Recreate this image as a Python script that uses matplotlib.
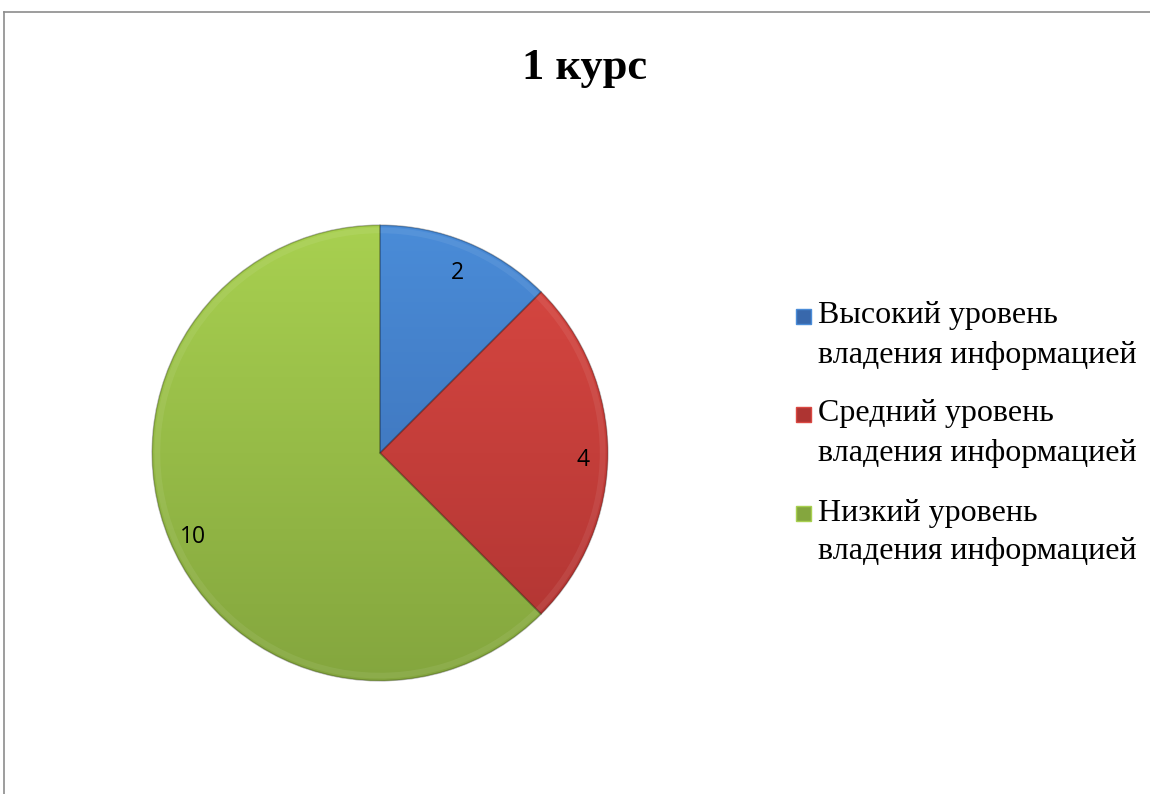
import numpy as np
import matplotlib
matplotlib.use("Agg")
import matplotlib.pyplot as plt
from matplotlib.patches import Rectangle, Wedge
from matplotlib.lines import Line2D
from matplotlib.colors import LinearSegmentedColormap

# данные
title = "1 курс"
labels = ["Высокий уровень\nвладения информацией",
          "Средний уровень\nвладения информацией",
          "Низкий уровень\nвладения информацией"]
values = [2, 4, 10]
colors_top = ["#4A8CD8", "#DA4842", "#A8D050"]
colors_bottom = ["#3868AC", "#AE3432", "#84A63E"]

W, H = 1150, 794
fig = plt.figure(figsize=(W / 100, H / 100), dpi=100)

# рамка диаграммы (видны только верх и левый край)
fig.add_artist(Line2D([4 / W, 1], [1 - 12 / H, 1 - 12 / H], color="#8c8c8c", lw=1.2))
fig.add_artist(Line2D([4 / W, 4 / W], [0, 1 - 12 / H], color="#8c8c8c", lw=1.2))

cx, cy, r = 380, 453, 230
ax = fig.add_axes([(cx - r) / W, (H - cy - r) / H, 2 * r / W, 2 * r / H])

total = sum(values)
wedges, texts, autotexts = ax.pie(
    values, startangle=90, counterclock=False,
    colors=colors_top, autopct=lambda p: f"{p * total / 100:.0f}",
    pctdistance=0.89,
    wedgeprops=dict(edgecolor=(0, 0, 0, 0.15), linewidth=1.0),
    textprops=dict(fontsize=16.5, family="Open Sans", color="black"))
ax.set_aspect("equal")
ax.axis("off")

# вертикальный градиент в каждом секторе
grad = np.linspace(0, 1, 256).reshape(-1, 1)
for w, ct, cb in zip(wedges, colors_top, colors_bottom):
    cmap = LinearSegmentedColormap.from_list("g", [ct, cb])
    im = ax.imshow(grad, cmap=cmap, extent=(-1, 1, -1, 1), origin="upper",
                   aspect="auto", zorder=w.get_zorder() + 0.1)
    im.set_clip_path(w)
    # светлая фаска по краю сектора
    ax.add_patch(Wedge(w.center, w.r - 0.01, w.theta1, w.theta2, width=0.025,
                       facecolor=(1, 1, 1, 0.07), edgecolor="none",
                       zorder=w.get_zorder() + 0.15))
    ax.add_patch(Wedge(w.center, w.r, w.theta1, w.theta2, facecolor="none",
                       edgecolor=(0, 0, 0, 0.18), lw=1.2,
                       zorder=w.get_zorder() + 0.2))
for t in autotexts:
    x, y = t.get_position()
    t.set_position((x, y - 0.03))
    t.set_zorder(10)
ax.set_xlim(-1.01, 1.01)
ax.set_ylim(-1.01, 1.01)

# заголовок
fig.text(585 / W, 1 - 79 / H, title, ha="center", va="baseline",
         fontsize=32, fontweight="bold", family="Liberation Serif")

# легенда
ys = [316, 414, 513]
for lab, ct, cb, y in zip(labels, colors_top, colors_bottom, ys):
    fig.patches.append(Rectangle((796 / W, 1 - (y + 8) / H), 15 / W, 15 / H,
                                 transform=fig.transFigure, facecolor=cb,
                                 edgecolor=ct, lw=1.0))
    first, second = lab.split("\n")
    fig.text(818 / W, 1 - y / H, first, ha="left", va="center",
             fontsize=23, family="Liberation Serif")
    fig.text(818 / W, 1 - (y + 39) / H, second, ha="left", va="center",
             fontsize=23, family="Liberation Serif")

fig.savefig("out.png", dpi=100, facecolor="white")
